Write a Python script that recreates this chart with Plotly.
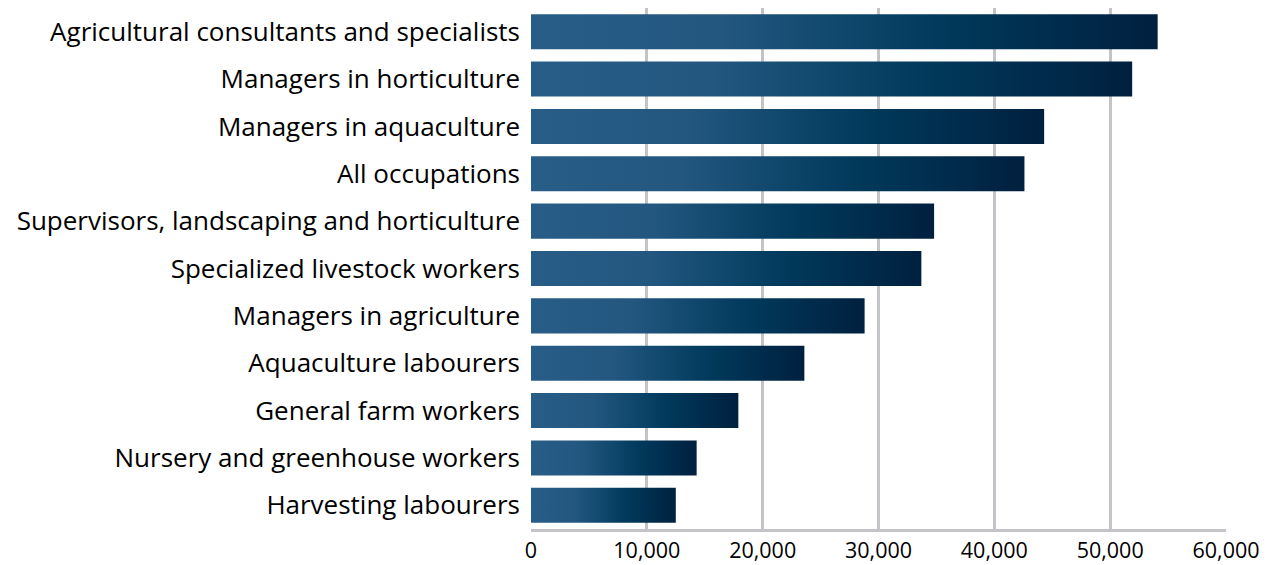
import plotly.graph_objects as go

categories = [
    "Agricultural consultants and specialists",
    "Managers in horticulture",
    "Managers in aquaculture",
    "All occupations",
    "Supervisors, landscaping and horticulture",
    "Specialized livestock workers",
    "Managers in agriculture",
    "Aquaculture labourers",
    "General farm workers",
    "Nursery and greenhouse workers",
    "Harvesting labourers",
]
values = [54100, 51900, 44300, 42600, 34800, 33700, 28800, 23600, 17900, 14300, 12500]
x_ticks = [0, 10000, 20000, 30000, 40000, 50000, 60000]
x_ticklabels = ["0", "10,000", "20,000", "30,000", "40,000", "50,000", "60,000"]

gradient = [[0, "#285d87"], [0.3, "#235780"], [0.65, "#013a5c"], [1, "#00203f"]]
half = 0.37

fig = go.Figure()
for i, (cat, v) in enumerate(zip(categories, values)):
    fig.add_trace(go.Scatter(
        x=[0, v, v, 0, 0],
        y=[i - half, i - half, i + half, i + half, i - half],
        mode="lines",
        line=dict(width=0, color="rgba(0,0,0,0)"),
        fill="toself",
        fillgradient=dict(type="horizontal", colorscale=gradient),
        name=cat,
        hoveron="fills",
        hoverinfo="name",
        showlegend=False,
    ))

font_family = "'Open Sans', sans-serif"
# the page body adds an 8px offset, margins compensate for it
fig.update_layout(
    width=1276, height=565,
    margin=dict(l=523, r=58, t=0, b=44),
    plot_bgcolor="white", paper_bgcolor="white",
    font=dict(family=font_family, size=24, color="black"),
    xaxis=dict(
        range=[0, 60000], tickvals=x_ticks, ticktext=x_ticklabels,
        showgrid=True, gridcolor="#c4c4c8", gridwidth=2.6,
        showline=True, linecolor="#c4c4c8", linewidth=2.6,
        zeroline=False, ticks="", ticklen=0, automargin=False,
        tickfont=dict(size=21.5, family=font_family, color="black"),
    ),
    yaxis=dict(
        range=[len(categories) - 0.5, -0.5],
        tickvals=list(range(len(categories))), ticktext=categories,
        showgrid=False, zeroline=False, showline=False, ticks="",
        ticklabelstandoff=10, automargin=False,
        tickfont=dict(size=26, family=font_family, color="black"),
    ),
)
fig.write_html("out.html")
